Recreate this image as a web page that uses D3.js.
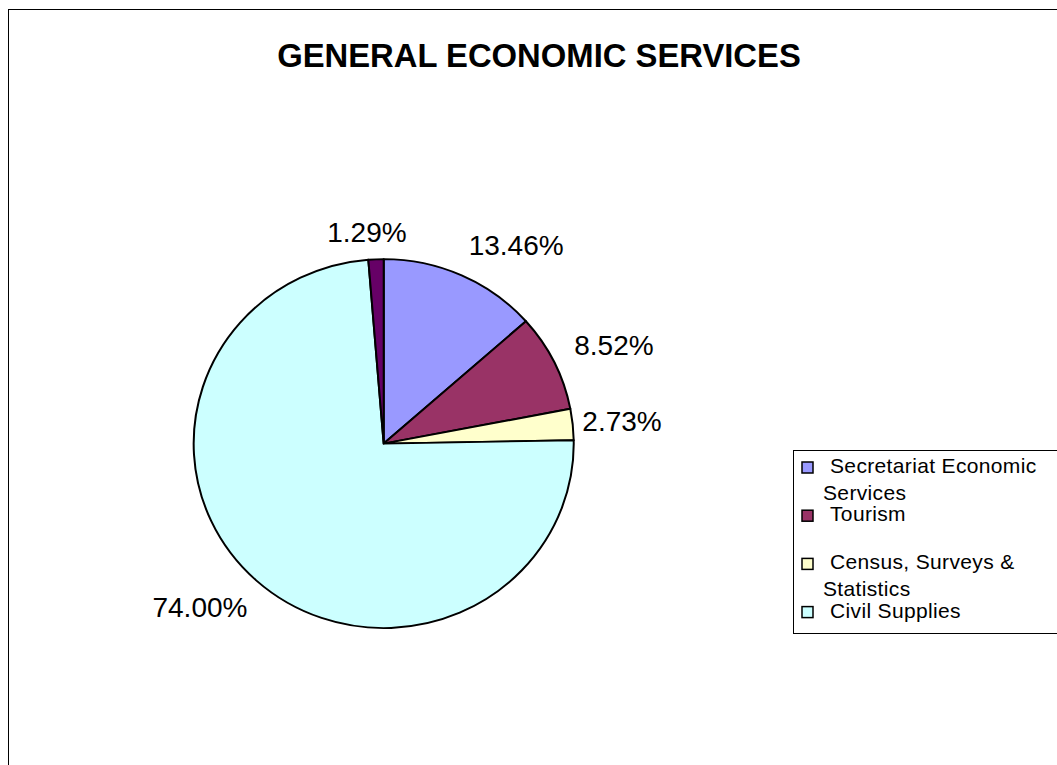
<!DOCTYPE html>
<html>
<head>
<meta charset="utf-8">
<script src="https://cdn.jsdelivr.net/npm/d3@7/dist/d3.min.js"></script>
<style>
  html, body { margin: 0; padding: 0; background: #ffffff; }
  svg { display: block; }
  text { font-family: "Liberation Sans", Arial, sans-serif; fill: #000; }
</style>
</head>
<body>
<svg id="chart" width="1057" height="765"></svg>
<script>
// ---- data ----
const chartTitle = "GENERAL ECONOMIC SERVICES";
const categories = [
  "Secretariat Economic Services",
  "Tourism",
  "Census, Surveys & Statistics",
  "Civil Supplies",
  "Other Services"
];
const shares = [13.46, 8.52, 2.73, 74.00, 1.29];
const sliceColors = ["#9999FF", "#993366", "#FFFFCC", "#CCFFFF", "#660066"];

// ---- layout ----
const W = 1057, H = 765;
const cx = 383.7, cy = 443.6;
const radius = 184.5;
const stretchX = 1.03;               // pie is drawn slightly wider than tall
const labelNudgeDeg = [9.5, 3.0, 0.6, 6.2, -2.2];   // keeps neighbouring labels apart
const labelDist = [238.6, 250.5, 239.4, 245.9, 212.3];

const svg = d3.select("#chart");

// outer frame
svg.append("rect")
  .attr("x", 8.5).attr("y", 9.5)
  .attr("width", W + 20).attr("height", H + 20)
  .attr("fill", "#fff").attr("stroke", "#000").attr("stroke-width", 1);

// title
svg.append("text")
  .attr("x", 539).attr("y", 67)
  .attr("text-anchor", "middle")
  .style("font-size", "32.8px").style("font-weight", "bold")
  .text(chartTitle);

// pie
const data = categories.map((c, i) => ({ name: c, value: shares[i], color: sliceColors[i], idx: i }));
const pie = d3.pie().value(d => d.value).sort(null).startAngle(0).endAngle(2 * Math.PI);
const arcs = pie(data);
const arc = d3.arc().innerRadius(0).outerRadius(radius);

const pieG = svg.append("g")
  .attr("transform", `translate(${cx},${cy}) scale(${stretchX},1)`);

pieG.selectAll("path.slice")
  .data(arcs)
  .join("path")
  .attr("class", "slice")
  .attr("d", arc)
  .attr("fill", d => d.data.color)
  .attr("stroke", "#000")
  .attr("stroke-width", 2 / stretchX)
  .attr("stroke-linejoin", "round");

// percentage labels
const fmt = d3.format(".2f");
svg.append("g").selectAll("text.pct")
  .data(arcs)
  .join("text")
  .attr("class", "pct")
  .attr("text-anchor", "middle")
  .attr("dy", "0.36em")
  .style("font-size", "28px")
  .attr("x", d => {
    const a = (d.startAngle + d.endAngle) / 2 + labelNudgeDeg[d.data.idx] * Math.PI / 180;
    return cx + labelDist[d.data.idx] * Math.sin(a);
  })
  .attr("y", d => {
    const a = (d.startAngle + d.endAngle) / 2 + labelNudgeDeg[d.data.idx] * Math.PI / 180;
    return cy - labelDist[d.data.idx] * Math.cos(a);
  })
  .text(d => fmt(d.data.value) + "%");

// legend
const lgX = 793.5, lgY = 450.5, lgH = 183;
const legend = svg.append("g");
legend.append("rect")
  .attr("x", lgX).attr("y", lgY)
  .attr("width", 300).attr("height", lgH)
  .attr("fill", "#fff").attr("stroke", "#000").attr("stroke-width", 1);

const rowStep = 48.2, firstBase = lgY + 22.5, wrapStep = 26.5;
const textX = lgX + 36.5, wrapX = lgX + 29.5, maxTextW = 214;

data.forEach((d, i) => {
  const base = firstBase + i * rowStep;
  if (base + 10 > lgY + lgH) return;   // entries that do not fit the box are left out
  const row = legend.append("g");
  row.append("rect")
    .attr("x", lgX + 8.5).attr("y", base - 11)
    .attr("width", 11).attr("height", 11)
    .attr("fill", d.color).attr("stroke", "#000").attr("stroke-width", 1.5);

  // word wrap
  const words = d.name.split(" ");
  const lines = [];
  let cur = "";
  const probe = row.append("text").style("font-size", "21px").style("letter-spacing", "0.35px");
  words.forEach(w => {
    const tryLine = cur ? cur + " " + w : w;
    probe.text(tryLine);
    if (cur && probe.node().getComputedTextLength() > maxTextW) {
      lines.push(cur);
      cur = w;
    } else {
      cur = tryLine;
    }
  });
  if (cur) lines.push(cur);
  probe.remove();

  lines.forEach((ln, k) => {
    row.append("text")
      .attr("x", k === 0 ? textX : wrapX)
      .attr("y", base + k * wrapStep)
      .style("font-size", "21px")
      .style("letter-spacing", "0.35px")
      .text(ln);
  });
});
</script>
</body>
</html>
